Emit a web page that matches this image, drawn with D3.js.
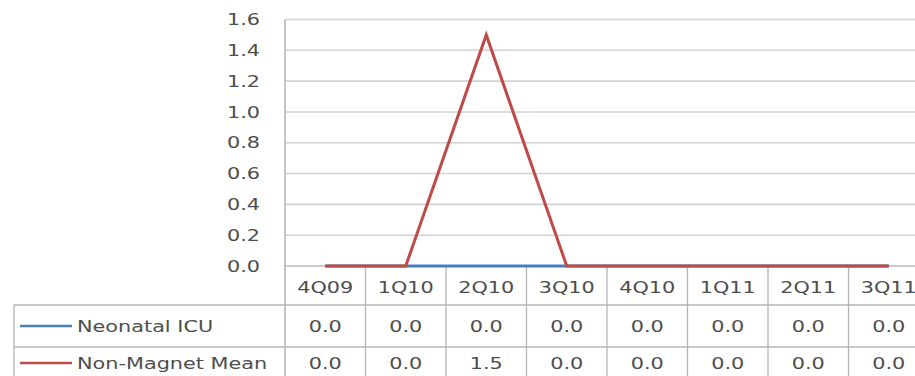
<!DOCTYPE html>
<html>
<head>
<meta charset="utf-8">
<script src="https://cdn.jsdelivr.net/npm/d3@7"></script>
<style>
  html, body { margin: 0; padding: 0; background: #fff; }
  svg { display: block; }
  text { font-family: "DejaVu Sans", sans-serif; fill: #4d4d4d; }
</style>
</head>
<body>
<svg id="chart" width="915" height="376"></svg>
<script>
// Quarterly categories and series values
const categories = ["4Q09", "1Q10", "2Q10", "3Q10", "4Q10", "1Q11", "2Q11", "3Q11"];
const neonatalICU = [0.0, 0.0, 0.0, 0.0, 0.0, 0.0, 0.0, 0.0];
const nonMagnetMean = [0.0, 0.0, 1.5, 0.0, 0.0, 0.0, 0.0, 0.0];
const seriesNames = ["Neonatal ICU", "Non-Magnet Mean"];
const seriesColors = ["#4a7ebb", "#be4b48"];
const yTicks = [0, 0.2, 0.4, 0.6, 0.8, 1.0, 1.2, 1.4, 1.6];

const series = [
  { name: seriesNames[0], values: neonatalICU, color: seriesColors[0] },
  { name: seriesNames[1], values: nonMagnetMean, color: seriesColors[1] }
];

const svg = d3.select("#chart");

// Plot geometry
const plotLeft = 285, colW = 80.5;
const plotRight = plotLeft + colW * categories.length;
const plotTop = 19.5, plotBottom = 266;
const tableLeft = 14;
const rowLines = [305, 347];
const rowCenters = [287, 326, 363];
const sx = 1.3; // horizontal stretch of the typeface

const x = d3.scaleBand().domain(categories).range([plotLeft, plotRight]).padding(0);
const y = d3.scaleLinear().domain([0, 1.6]).range([plotBottom, plotTop]);

function label(g, tx, ty, str, anchor) {
  return g.append("text")
    .attr("transform", `translate(${tx},${ty}) scale(${sx},1)`)
    .attr("text-anchor", anchor)
    .attr("dominant-baseline", "central")
    .style("font-size", "16px")
    .text(str);
}

// Horizontal gridlines
svg.append("g").selectAll("line").data(yTicks).join("line")
  .attr("x1", plotLeft).attr("x2", plotRight)
  .attr("y1", d => y(d)).attr("y2", d => y(d))
  .attr("stroke", d => d === 0 ? "#b8b8b8" : "#d2d2d2")
  .attr("stroke-width", 1.6);

// Y tick labels
const yl = svg.append("g");
yTicks.forEach(t => label(yl, 260, y(t), d3.format(".1f")(t), "end"));

// Data table grid
const grid = svg.append("g").attr("stroke", "#b4b4b4").attr("stroke-width", 1.3);
// vertical value-axis line continuing through the table
grid.append("line").attr("x1", plotLeft).attr("x2", plotLeft).attr("y1", plotTop).attr("y2", 376).attr("stroke", "#a8a8a8");
categories.forEach((c, i) => {
  const xe = x(c) + x.bandwidth();
  grid.append("line").attr("x1", xe).attr("x2", xe).attr("y1", plotBottom).attr("y2", 376);
});
rowLines.forEach(ry => {
  grid.append("line").attr("x1", tableLeft).attr("x2", plotRight).attr("y1", ry).attr("y2", ry);
});
grid.append("line").attr("x1", tableLeft).attr("x2", tableLeft).attr("y1", rowLines[0]).attr("y2", 376);

// Table header (categories)
const tg = svg.append("g");
categories.forEach(c => label(tg, x(c) + x.bandwidth() / 2, rowCenters[0], c, "middle"));

// Table values and legend keys
series.forEach((s, si) => {
  const cy = rowCenters[si + 1];
  s.values.forEach((v, i) => {
    label(tg, x(categories[i]) + x.bandwidth() / 2, cy, d3.format(".1f")(v), "middle");
  });
  tg.append("line")
    .attr("x1", 20).attr("x2", 72).attr("y1", cy).attr("y2", cy)
    .attr("stroke", s.color).attr("stroke-width", 2.5);
  label(tg, 77, cy, s.name, "start");
});

// Series lines
const line = d3.line()
  .x((d, i) => x(categories[i]) + x.bandwidth() / 2)
  .y(d => y(d));

svg.append("g").selectAll("path").data(series).join("path")
  .attr("d", d => line(d.values))
  .attr("fill", "none")
  .attr("stroke", d => d.color)
  .attr("stroke-width", 3)
  .attr("stroke-linejoin", "miter")
  .attr("stroke-linecap", "butt");
</script>
</body>
</html>
